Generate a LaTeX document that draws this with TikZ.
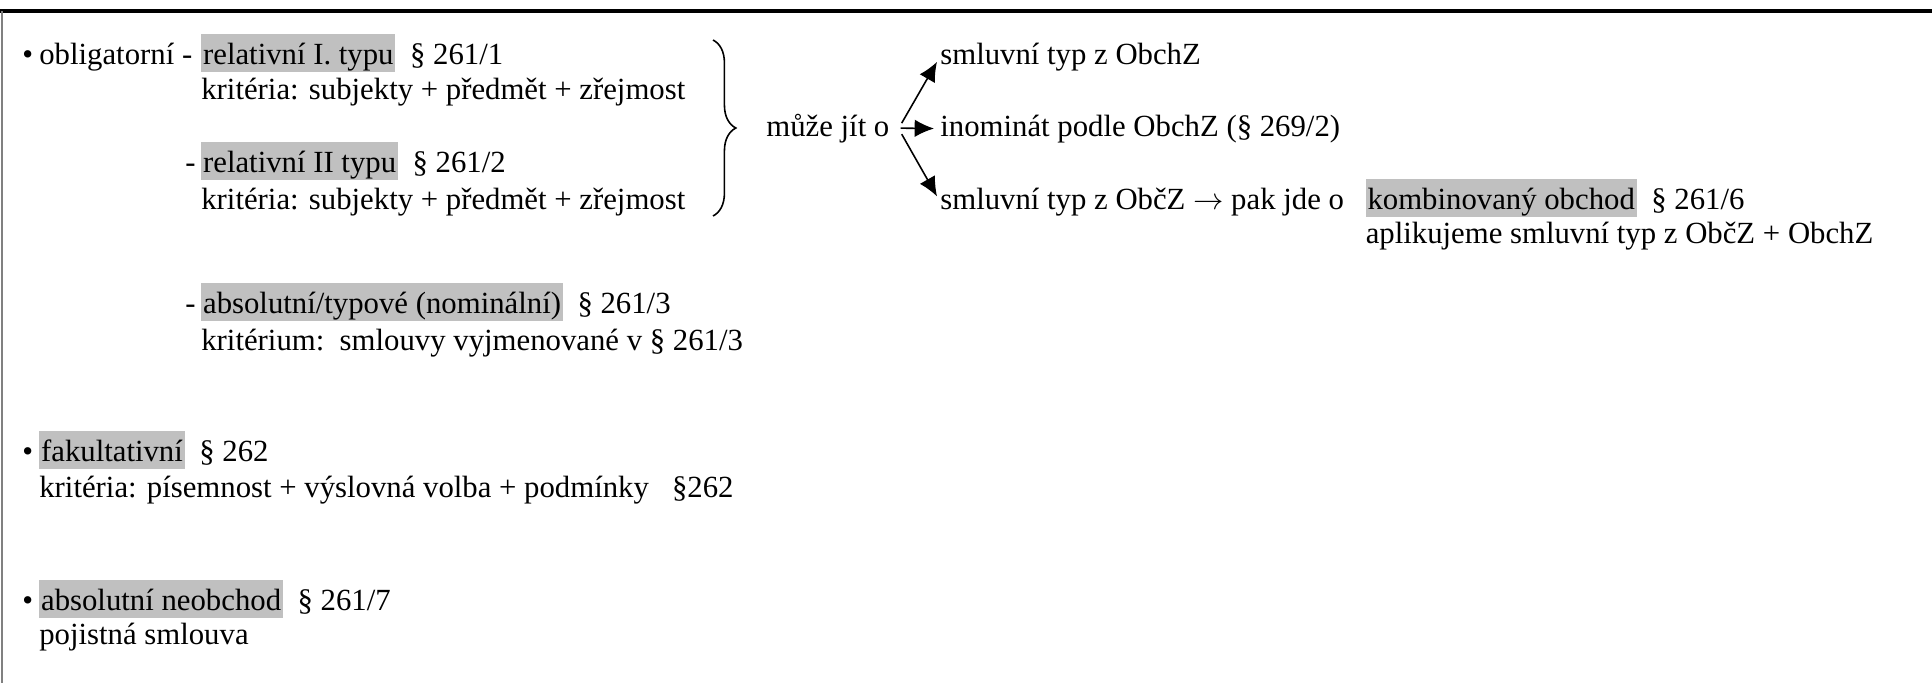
\documentclass[tikz,border=0pt]{standalone}
\usepackage{fontspec}
\setmainfont{Liberation Serif}
\usetikzlibrary{positioning,decorations.pathreplacing,arrows.meta}
\definecolor{hl}{RGB}{192,192,192}
\tikzset{
  txt/.style={anchor=base west,inner sep=0pt},
  hilite/.style={txt,fill=hl,text height=17pt,text depth=4.5pt,inner xsep=1pt},
  arr/.style={line width=0.9pt,-{Latex[length=11pt,width=10pt]},shorten >=1.2mm}
}

\begin{document}
\begin{tikzpicture}[x=0.2mm,y=-0.2mm,font=\fontsize{17.5}{21}\selectfont]
      \useasboundingbox (0,0) rectangle (1932,683);
      \draw[line width=0.7mm] (0,11) -- (1932,11);
      \draw[gray,line width=0.3mm] (2,11) -- (2,683);

      \node[txt] (b1) at (22,64) {•};
      \node[txt] (obl) at (39,64) {obligatorní -};
      \node[hilite] (rel1) at (201,64) {relativní I. typu};
      \node[txt,base right=8pt of rel1] (p1) {§ 261/1};
      \node[txt] (k1) at (201,99) {kritéria: subjekty + předmět + zřejmost};
      \node[txt,anchor=base east] (d2) at (196,172) {-};
      \node[hilite] (rel2) at (201,172) {relativní II typu};
      \node[txt,base right=8pt of rel2] (p2) {§ 261/2};
      \node[txt] (k2) at (201,209) {kritéria: subjekty + předmět + zřejmost};

      \draw[line width=0.9pt,decorate,decoration={brace,amplitude=13pt}] (713,40) -- (713,216);
      \node[txt] (mjo) at (766,136) {může jít o};
      \node[txt] (s1) at (940,64) {smluvní typ z ObchZ};
      \node[txt] (s2) at (940,136) {inominát podle ObchZ (§ 269/2)};
      \node[txt] (s3) at (940,209) {smluvní typ z ObčZ $\rightarrow$ pak jde o};
      \node[hilite,base right=12pt of s3] (komb) {kombinovaný obchod};
      \node[txt,base right=8pt of komb] (p6) {§ 261/6};
      \node[txt] (apl) at (komb.base west) [yshift=-34*0.2mm] {aplikujeme smluvní typ z ObčZ + ObchZ};

      \draw[arr] ([xshift=2.4mm,yshift=1mm]mjo.east) -- (s1.west);
      \draw[arr] ([xshift=2.2mm]mjo.east) -- (s2.west);
      \draw[arr] ([xshift=2.4mm,yshift=-1.2mm]mjo.east) -- (s3.west);

      \node[txt,anchor=base east] (d3) at (196,313) {-};
      \node[hilite] (abs) at (201,313) {absolutní/typové (nominální)};
      \node[txt,base right=8pt of abs] (p3) {§ 261/3};
      \node[txt] (k3) at (201,350) {kritérium:\ \ smlouvy vyjmenované v § 261/3};

      \node[txt] (b2) at (22,461) {•};
      \node[hilite] (fak) at (39,461) {fakultativní};
      \node[txt,base right=8pt of fak] (p4) {§ 262};
      \node[txt] (k4) at (39,497) {kritéria: písemnost + výslovná volba + podmínky\ \ \ §262};

      \node[txt] (b3) at (22,610) {•};
      \node[hilite] (neo) at (39,610) {absolutní neobchod};
      \node[txt,base right=8pt of neo] (p7) {§ 261/7};
      \node[txt] (poj) at (39,644) {pojistná smlouva};
    \end{tikzpicture}
\end{document}
